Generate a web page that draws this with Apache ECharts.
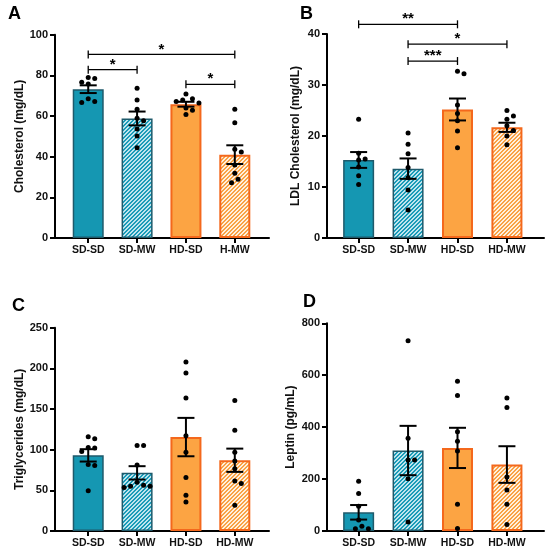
<!DOCTYPE html>
<html>
<head>
<meta charset="UTF-8">
<title>Lipid profile</title>
<style>
	html, body { margin: 0; padding: 0; background: #fff; }
	#chart { width: 550px; height: 560px; }
</style>
</head>
<body>
<div id="chart"></div>
<script src="https://cdn.jsdelivr.net/npm/echarts@6/dist/echarts.min.js"></script>
<script type="text/javascript">
var groups = ['SD-SD', 'SD-MW', 'HD-SD', 'HD-MW'];
var groupsA = ['SD-SD', 'SD-MW', 'HD-SD', 'H-MW'];

// A - cholesterol (mg/dL)
var cholMean = [73.2, 58.8, 65.8, 41.0];
var cholSem = [1.9, 3.4, 1.2, 4.6];
var cholPts = [
	[79.0, 78.4, 76.6, 75.7, 68.5, 67.2, 66.7],
	[73.6, 67.9, 63.3, 58.9, 57.7, 53.6, 50.2, 44.4],
	[70.8, 68.5, 67.9, 67.2, 66.4, 64.0, 62.8, 60.8],
	[63.3, 56.7, 43.6, 42.3, 35.9, 31.8, 28.9, 27.2]
];
var cholSig = [[0, 3, 90.3, '*'], [0, 1, 82.8, '*'], [2, 3, 75.6, '*']];

// B - LDL cholesterol (mg/dL)
var ldlMean = [15.3, 13.6, 25.2, 21.7];
var ldlSem = [1.55, 2.0, 2.15, 0.9];
var ldlPts = [
	[23.3, 16.6, 15.5, 15.3, 13.9, 12.2, 10.5],
	[20.6, 18.4, 16.5, 13.8, 11.8, 9.4, 5.5],
	[32.7, 32.2, 26.1, 24.4, 23.0, 21.0, 17.7],
	[25.0, 23.9, 23.3, 22.0, 21.1, 20.0, 18.3]
];
var ldlSig = [[0, 2, 41.9, '**'], [1, 3, 38.0, '*'], [1, 2, 34.7, '***']];

// C - triglycerides (mg/dL)
var trigMean = [93.0, 71.5, 115.5, 87.0];
var trigSem = [7.6, 8.2, 23.6, 14.3];
var trigPts = [
	[115.8, 113.3, 102.6, 102.2, 97.7, 81.7, 80.4, 49.6],
	[105.1, 105.1, 81.3, 59.9, 56.2, 55.0, 55.0, 53.4],
	[207.7, 194.2, 163.4, 117.0, 96.9, 65.7, 43.9, 35.7],
	[160.5, 124.0, 96.9, 86.2, 76.4, 61.6, 58.3, 31.6]
];

// D - leptin (pg/mL)
var lepMean = [72, 310, 320, 256];
var lepSem = [28, 95, 77.5, 70.5];
var lepPts = [
	[192, 144, 95, 42, 18, 9, 9],
	[733, 357, 273, 273, 201, 35],
	[577, 522, 382, 346, 308, 103, 10],
	[512, 476, 208, 158, 103, 25]
];

var FONT = 'Liberation Sans';

function hatch(fg, bg) {
	var c = document.createElement('canvas');
	c.width = 4; c.height = 4;
	var ctx = c.getContext('2d');
	for (var x = 0; x < 4; x++) {
		for (var y = 0; y < 4; y++) {
			ctx.fillStyle = ((x + y) % 4 < 2) ? fg : bg;
			ctx.fillRect(x, y, 1, 1);
		}
	}
	return c;
}

var tealHatch = hatch('#1a9bb8', '#bfe5ee');
var orangeHatch = hatch('#f9a246', '#fff0de');

function barStyle(i) {
	if (i == 0) return { color: '#1597b2', borderColor: '#1e5a6b', borderWidth: 1.5 };
	if (i == 1) return { color: { image: tealHatch, repeat: 'repeat' }, borderColor: '#1e5a6b', borderWidth: 1.5 };
	if (i == 2) return { color: '#fca443', borderColor: '#f4681c', borderWidth: 2 };
	return { color: { image: orangeHatch, repeat: 'repeat' }, borderColor: '#f4681c', borderWidth: 2 };
}

// beeswarm-like horizontal spread, computed in pixels
function swarmOffset(api, vals, j) {
	var STEP = 3.25, DIA = 6.5;
	var order = vals.map(function (v, i) { return i; }).sort(function (a, b) { return vals[b] - vals[a]; });
	var placed = [];
	for (var n = 0; n < order.length; n++) {
		var k = order[n];
		var y = api.coord([0, vals[k]])[1];
		var dx = 0;
		for (var t = 0; t < 30; t++) {
			var cand = t == 0 ? 0 : (t % 2 ? 1 : -1) * Math.ceil(t / 2) * STEP;
			var ok = true;
			for (var q = 0; q < placed.length; q++) {
				var ddx = placed[q][0] - cand, ddy = placed[q][1] - y;
				if (ddx * ddx + ddy * ddy < DIA * DIA) { ok = false; break; }
			}
			if (ok) { dx = cand; break; }
		}
		placed.push([dx, y]);
		if (k === j) return dx;
	}
	return 0;
}

function xAxis(idx, names, min, max) {
	return {
		type: 'value', gridIndex: idx, min: min, max: max,
		axisLine: { show: true, onZero: false, lineStyle: { color: '#000', width: 2 } },
		axisTick: { show: true, length: 5, customValues: [0, 1, 2, 3], lineStyle: { color: '#000', width: 2 } },
		axisLabel: {
			customValues: [0, 1, 2, 3], margin: 7,
			formatter: function (v) { return names[Math.round(v)]; },
			fontFamily: FONT, fontWeight: 'bold', fontSize: 10.5, color: '#111'
		},
		splitLine: { show: false }
	};
}

function yAxis(idx, name, max, step, gap) {
	return {
		type: 'value', gridIndex: idx, min: 0, max: max, interval: step,
		name: name, nameLocation: 'middle', nameGap: gap,
		nameTextStyle: { fontFamily: FONT, fontWeight: 'bold', fontSize: 12, color: '#111' },
		axisLine: { show: true, onZero: false, lineStyle: { color: '#000', width: 2 } },
		axisTick: { show: true, length: 5, lineStyle: { color: '#000', width: 2 } },
		axisLabel: { margin: 7, fontFamily: FONT, fontWeight: 'bold', fontSize: 11, color: '#111' },
		splitLine: { show: false }
	};
}

function panelSeries(idx, means, sems, pts, sig) {
	var out = [];
	out.push({
		type: 'bar', xAxisIndex: idx, yAxisIndex: idx, barWidth: 31, z: 2,
		data: means.map(function (m, i) { return { value: [i, m], itemStyle: barStyle(i) }; })
	});
	out.push({
		type: 'custom', xAxisIndex: idx, yAxisIndex: idx, z: 3,
		encode: { x: 0, y: 1 },
		data: means.map(function (m, i) { return [i, m, sems[i]]; }),
		renderItem: function (params, api) {
			var x = api.value(0), m = api.value(1), s = api.value(2);
			var hi = api.coord([x, m + s]), lo = api.coord([x, m - s]);
			var w = 8.5, st = { stroke: '#000', lineWidth: 2 };
			return { type: 'group', children: [
				{ type: 'line', shape: { x1: hi[0], y1: hi[1], x2: lo[0], y2: lo[1] }, style: st },
				{ type: 'line', shape: { x1: hi[0] - w, y1: hi[1], x2: hi[0] + w, y2: hi[1] }, style: st },
				{ type: 'line', shape: { x1: lo[0] - w, y1: lo[1], x2: lo[0] + w, y2: lo[1] }, style: st }
			] };
		}
	});
	var dots = [];
	pts.forEach(function (list, c) {
		list.forEach(function (v, j) { dots.push([c, v, j]); });
	});
	out.push({
		type: 'custom', xAxisIndex: idx, yAxisIndex: idx, z: 4,
		encode: { x: 0, y: 1 },
		data: dots,
		renderItem: function (params, api) {
			var c = api.value(0), v = api.value(1), j = api.value(2);
			var p = api.coord([c, v]);
			var dx = swarmOffset(api, pts[c], j);
			return { type: 'circle', shape: { cx: p[0] + dx, cy: p[1], r: 2.5 }, style: { fill: '#000' } };
		}
	});
	if (sig) {
		out.push({
			type: 'custom', xAxisIndex: idx, yAxisIndex: idx, z: 5, clip: false,
			encode: { x: [0, 1], y: 2 },
			data: sig.map(function (s) { return [s[0], s[1], s[2]]; }),
			renderItem: function (params, api) {
				var a = api.coord([api.value(0), api.value(2)]);
				var b = api.coord([api.value(1), api.value(2)]);
				var st = { stroke: '#000', lineWidth: 1.3 };
				var h = 4;
				return { type: 'group', children: [
					{ type: 'line', shape: { x1: a[0], y1: a[1], x2: b[0], y2: b[1] }, style: st },
					{ type: 'line', shape: { x1: a[0], y1: a[1] - h, x2: a[0], y2: a[1] + h }, style: st },
					{ type: 'line', shape: { x1: b[0], y1: b[1] - h, x2: b[0], y2: b[1] + h }, style: st },
					{ type: 'text', x: (a[0] + b[0]) / 2, y: a[1] - 5, style: {
						text: sig[params.dataIndex][3], fill: '#000',
						font: 'bold 15px "' + FONT + '"',
						align: 'center', verticalAlign: 'middle',
						textAlign: 'center', textVerticalAlign: 'middle'
					} }
				] };
			}
		});
	}
	return out;
}

var chart = echarts.init(document.getElementById('chart'));
var letterStyle = { fontFamily: FONT, fontWeight: 'bold', fontSize: 18, color: '#000' };
var option = {
	animation: false,
	backgroundColor: '#fff',
	title: [
		{ text: 'A', left: 8, top: 5, padding: 0, textStyle: letterStyle },
		{ text: 'B', left: 300, top: 5, padding: 0, textStyle: letterStyle },
		{ text: 'C', left: 12, top: 297, padding: 0, textStyle: letterStyle },
		{ text: 'D', left: 303, top: 293, padding: 0, textStyle: letterStyle }
	],
	grid: [
		{ left: 55, top: 34.7, width: 214, height: 203.3 },
		{ left: 327, top: 34, width: 217, height: 204 },
		{ left: 55, top: 327.7, width: 214, height: 203.3 },
		{ left: 327, top: 323.3, width: 217, height: 207.7 }
	],
	xAxis: [
		xAxis(0, groupsA, -0.68, 3.70),
		xAxis(1, groups, -0.64, 3.75),
		xAxis(2, groups, -0.68, 3.70),
		xAxis(3, groups, -0.64, 3.75)
	],
	yAxis: [
		yAxis(0, 'Cholesterol (mg/dL)', 100, 20, 28),
		yAxis(1, 'LDL Cholesterol (mg/dL)', 40, 10, 25),
		yAxis(2, 'Triglycerides (mg/dL)', 250, 50, 28),
		yAxis(3, 'Leptin (pg/mL)', 800, 200, 30)
	],
	series: [].concat(
		panelSeries(0, cholMean, cholSem, cholPts, cholSig),
		panelSeries(1, ldlMean, ldlSem, ldlPts, ldlSig),
		panelSeries(2, trigMean, trigSem, trigPts, null),
		panelSeries(3, lepMean, lepSem, lepPts, null)
	)
};
chart.setOption(option);
</script>
</body>
</html>
